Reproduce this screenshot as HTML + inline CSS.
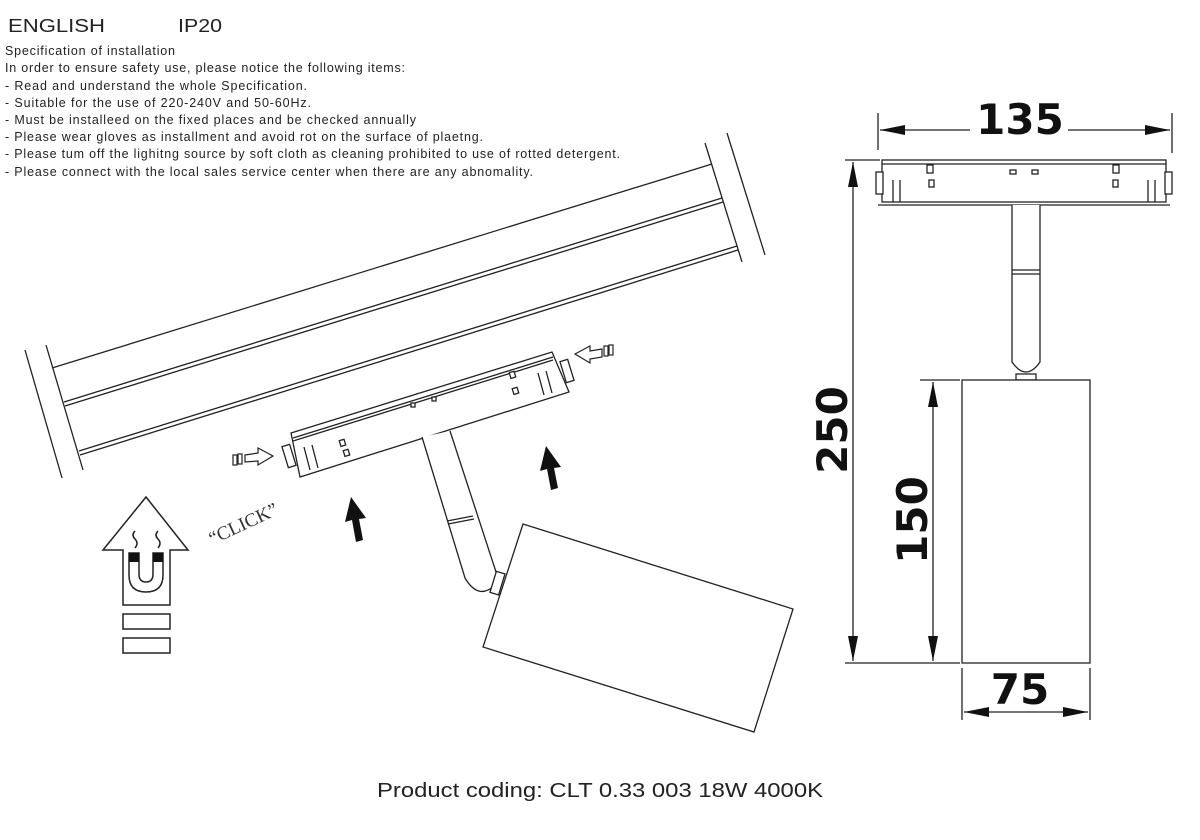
<!DOCTYPE html>
<html><head><meta charset="utf-8"><style>
html,body{margin:0;padding:0;background:#fff;}
svg{display:block;}
</style></head><body>
<svg width="1200" height="840" viewBox="0 0 1200 840" xmlns="http://www.w3.org/2000/svg" font-family="Liberation Sans, sans-serif">
<rect width="1200" height="840" fill="#fff"/>
<g fill="#222">
<text x="8" y="32" font-size="18" textLength="97" lengthAdjust="spacingAndGlyphs">ENGLISH</text>
<text x="178" y="32" font-size="18" textLength="44" lengthAdjust="spacingAndGlyphs">IP20</text>
<g font-size="12.5" lengthAdjust="spacingAndGlyphs">
<text x="5" y="55" textLength="170">Specification of installation</text>
<text x="5" y="72" textLength="400">In order to ensure safety use, please notice the following items:</text>
<text x="5" y="90" textLength="302">- Read and understand the whole Specification.</text>
<text x="5" y="107" textLength="306">- Suitable for the use of 220-240V and 50-60Hz.</text>
<text x="5" y="124" textLength="411">- Must be installeed on the fixed places and be checked annually</text>
<text x="5" y="141" textLength="478">- Please wear gloves as installment and avoid rot on the surface of plaetng.</text>
<text x="5" y="158" textLength="615">- Please tum off the lighitng source by soft cloth as cleaning prohibited to use of rotted detergent.</text>
<text x="5" y="176" textLength="528">- Please connect with the local sales service center when there are any abnomality.</text>
</g>
<text x="600" y="797" font-size="20" text-anchor="middle" textLength="446" lengthAdjust="spacingAndGlyphs">Product coding: CLT 0.33 003 18W 4000K</text>
</g>

<!-- Left track -->
<g stroke="#222" stroke-width="1.3" fill="none">
<line x1="25" y1="350" x2="62" y2="478"/>
<line x1="46" y1="345" x2="83" y2="470"/>
<line x1="705" y1="143" x2="742" y2="262"/>
<line x1="727" y1="133" x2="765" y2="255"/>
<line x1="52" y1="368" x2="712" y2="164"/>
<line x1="64" y1="402" x2="722" y2="198"/>
<line x1="65" y1="406" x2="723" y2="202"/>
<line x1="79" y1="451" x2="737" y2="246"/>
<line x1="80" y1="455" x2="738" y2="250"/>
</g>

<!-- rotated connector -->
<g stroke="#222" stroke-width="1.3" fill="#fff">
<polygon points="291,433 552,352 569,392 300,477"/>
<line x1="293" y1="438" x2="553" y2="357"/>
<line x1="293" y1="441" x2="553" y2="360"/>
<rect x="285" y="445" width="8" height="22" transform="rotate(-17 289 456)"/>
<rect x="563" y="360" width="8" height="22" transform="rotate(-17 567 371)"/>
<line x1="304" y1="447" x2="310" y2="470"/><line x1="312" y1="445" x2="318" y2="468"/>
<line x1="538" y1="373" x2="544" y2="395"/><line x1="546" y1="371" x2="552" y2="393"/>
<rect x="340" y="440" width="5" height="6" transform="rotate(-17 342 443)"/>
<rect x="344" y="450" width="5" height="6" transform="rotate(-17 346 453)"/>
<rect x="510" y="372" width="5" height="6" transform="rotate(-17 512 375)"/>
<rect x="513" y="388" width="5" height="6" transform="rotate(-17 515 391)"/>
<rect x="411" y="403" width="4" height="4"/>
<rect x="432" y="397" width="4" height="4"/>
</g>
<!-- stem -->
<g stroke="#222" stroke-width="1.3" fill="#fff">
<path d="M422,437 L465,578 Q478,600 494,586 L497,575 L450,431"/>
<line x1="447" y1="521" x2="473" y2="516"/>
<line x1="448" y1="524" x2="474" y2="519"/>
<rect x="493" y="572" width="9" height="22" transform="rotate(17 497 583)"/>
<polygon points="523,524 793,609 754,732 483,647"/>
</g>
<!-- push arrows -->
<g stroke="#222" stroke-width="1.2" fill="#fff">
<path d="M245,455 L258,453 L258,448 L273,456 L258,465 L258,461 L245,462 Z"/>
<rect x="233" y="455" width="4" height="10"/><rect x="238" y="454" width="4" height="10"/>
<path d="M602,349 L590,351 L590,346 L575,354 L590,363 L590,359 L602,357 Z"/>
<rect x="604" y="346" width="4" height="10"/><rect x="609" y="345" width="4" height="10"/>
</g>
<!-- dark arrows -->
<g fill="#111">
<path d="M351,497 L366,518 L359,519 L363,540 L356,542 L352,520 L345,522 Z"/>
<path d="M546,446 L561,467 L554,468 L558,488 L551,490 L547,469 L540,471 Z"/>
</g>
<!-- big arrow with magnet -->
<g stroke="#222" stroke-width="1.5" fill="#fff">
<path d="M146,497 L188,550 L170,550 L170,605 L123,605 L123,550 L103,550 Z"/>
<rect x="123" y="614" width="47" height="15"/>
<rect x="123" y="638" width="47" height="15"/>
<path d="M129,553 L129,575 Q129,592 146,592 Q163,592 163,575 L163,553 L153,553 L153,574 Q153,582 146,582 Q139,582 139,574 L139,553 Z"/>
<path d="M135,531 Q131,535 135,539 Q139,543 135,548" fill="none"/>
<path d="M158,531 Q154,535 158,539 Q162,543 158,548" fill="none"/>
</g>
<rect x="129" y="553" width="10" height="9" fill="#111"/>
<rect x="153" y="553" width="10" height="9" fill="#111"/>
<text x="243" y="530" font-family="Liberation Serif, serif" font-size="19" fill="#333" text-anchor="middle" transform="rotate(-25 243 523)">“CLICK”</text>

<!-- Right drawing -->
<g stroke="#222" stroke-width="1.3" fill="#fff">
<rect x="882" y="160" width="284" height="42"/>
<line x1="882" y1="164" x2="1166" y2="164"/>
<line x1="878" y1="205" x2="1170" y2="205"/>
<rect x="876" y="172" width="7" height="22"/><rect x="1165" y="172" width="7" height="22"/>
<line x1="893" y1="180" x2="893" y2="202"/><line x1="900" y1="180" x2="900" y2="202"/>
<line x1="1148" y1="180" x2="1148" y2="202"/><line x1="1155" y1="180" x2="1155" y2="202"/>
<rect x="927" y="165" width="6" height="8"/><rect x="1113" y="165" width="6" height="8"/>
<rect x="929" y="180" width="5" height="7"/><rect x="1113" y="180" width="5" height="7"/>
<rect x="1010" y="170" width="6" height="4"/><rect x="1032" y="170" width="6" height="4"/>
<path d="M1012,205 L1012,362 Q1026,382 1040,362 L1040,205"/>
<line x1="1012" y1="270" x2="1040" y2="270"/><line x1="1012" y1="274" x2="1040" y2="274"/>
<rect x="1016" y="374" width="20" height="6"/>
<rect x="962" y="380" width="128" height="283"/>
</g>
<g stroke="#222" stroke-width="1.3" fill="none">
<line x1="878" y1="113" x2="878" y2="150"/><line x1="1172" y1="113" x2="1172" y2="153"/>
<line x1="880" y1="130" x2="970" y2="130"/><line x1="1068" y1="130" x2="1170" y2="130"/>
<line x1="845" y1="160" x2="880" y2="160"/><line x1="845" y1="663" x2="960" y2="663"/>
<line x1="853" y1="162" x2="853" y2="661"/>
<line x1="920" y1="380" x2="960" y2="380"/>
<line x1="933" y1="382" x2="933" y2="661"/>
<line x1="962" y1="668" x2="962" y2="720"/><line x1="1090" y1="668" x2="1090" y2="720"/>
<line x1="964" y1="712" x2="1088" y2="712"/>
</g>
<g fill="#111">
<path d="M880,130 L905,125 L905,135 Z"/><path d="M1170,130 L1145,125 L1145,135 Z"/>
<path d="M853,162 L848,187 L858,187 Z"/><path d="M853,661 L848,636 L858,636 Z"/>
<path d="M933,382 L928,407 L938,407 Z"/><path d="M933,661 L928,636 L938,636 Z"/>
<path d="M964,712 L989,707 L989,717 Z"/><path d="M1088,712 L1063,707 L1063,717 Z"/>
</g>
<g font-family="DejaVu Sans, sans-serif" font-weight="bold" fill="#111" text-anchor="middle">
<text x="1020" y="134" font-size="42">135</text>
<text x="1020" y="704" font-size="42">75</text>
<text x="0" y="0" font-size="42" transform="translate(847,430) rotate(-90)">250</text>
<text x="0" y="0" font-size="42" transform="translate(927,520) rotate(-90)">150</text>
</g>
</svg>
</body></html>
